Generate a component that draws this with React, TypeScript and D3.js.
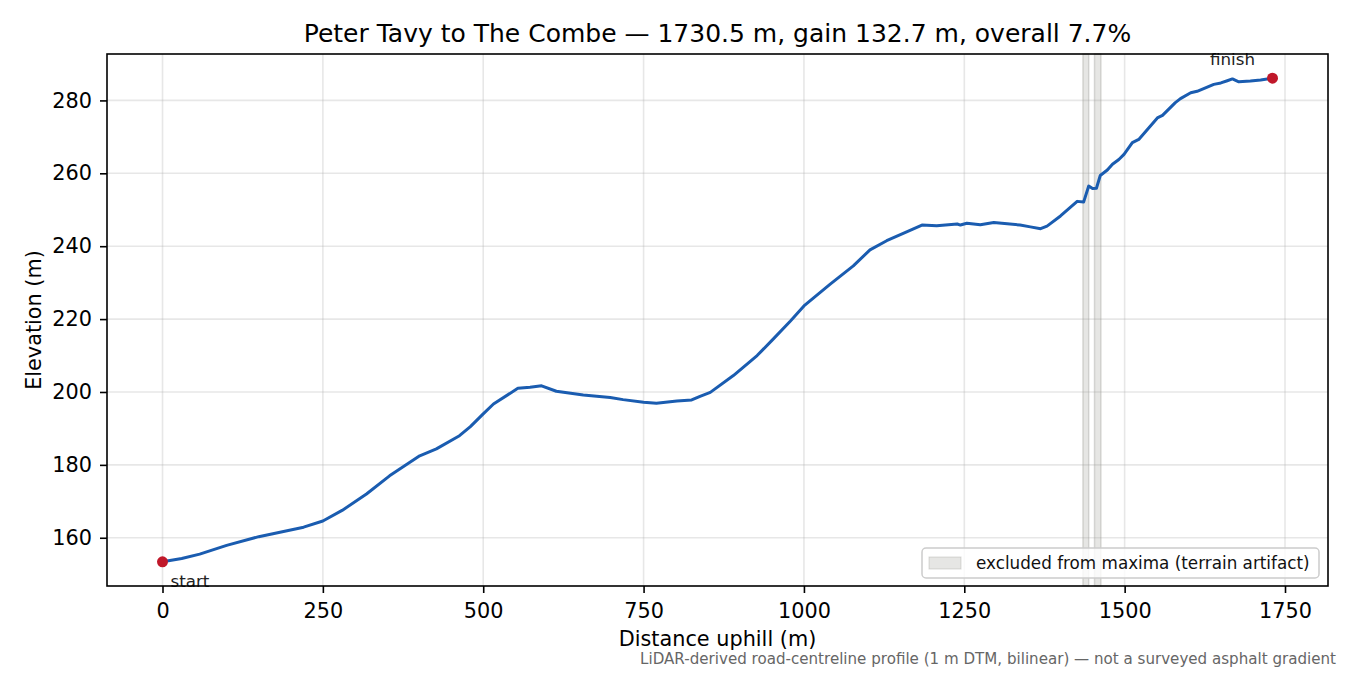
import { useEffect, useRef } from "react";
import * as d3 from "d3";

// profile
const distances = [
  0, 30, 58, 100, 150, 220, 250, 280, 318, 354, 401, 427, 463, 480, 500, 516,
  554, 573, 591, 614, 656, 698, 718, 750, 770, 802, 825, 838, 854, 890, 927,
  952, 979, 1000, 1041, 1077, 1103, 1129, 1161, 1184, 1207, 1239, 1244, 1254,
  1275, 1296, 1337, 1353, 1369, 1379, 1400, 1426, 1436, 1444, 1450, 1456, 1462,
  1473, 1481, 1491, 1499, 1512, 1522, 1551, 1559, 1579, 1587, 1603, 1613, 1639,
  1650, 1660, 1668, 1678, 1696, 1712, 1730.5,
];
const elevations = [
  153.4, 154.3, 155.5, 157.9, 160.3, 162.9, 164.6, 167.5, 172.0, 177.0, 182.5,
  184.4, 188.0, 190.5, 194.0, 196.7, 201.0, 201.3, 201.7, 200.2, 199.2, 198.5,
  197.9, 197.2, 196.9, 197.5, 197.8, 198.8, 199.9, 204.5, 210.0, 214.5, 219.5,
  223.6, 229.6, 234.6, 239.0, 241.5, 244.0, 245.8, 245.6, 246.1, 245.8, 246.3,
  245.9, 246.5, 245.8, 245.3, 244.8, 245.5, 248.3, 252.3, 252.1, 256.5, 255.8,
  255.9, 259.4, 260.9, 262.5, 263.8, 265.2, 268.4, 269.3, 275.2, 275.9, 279.4,
  280.5, 282.1, 282.5, 284.4, 284.8, 285.4, 285.9, 285.1, 285.3, 285.6, 286.1,
];
const excludedStart = [1435, 1453];
const excludedEnd = [1444, 1463];
const xTicks = [0, 250, 500, 750, 1000, 1250, 1500, 1750];
const yTicks = [160, 180, 200, 220, 240, 260, 280];

export default function App() {
  const svgRef = useRef<SVGSVGElement>(null);

  useEffect(() => {
    const width = 1350;
    const height = 675;
    const m = { left: 107, right: 1328, top: 54, bottom: 586 };
    const font = "DejaVu Sans, sans-serif";

    const svg = d3.select(svgRef.current);
    svg.selectAll("*").remove();
    svg.attr("width", width).attr("height", height).style("font-family", font);

    svg.append("rect").attr("width", width).attr("height", height).attr("fill", "white");

    // scales with matplotlib-like 5% margins
    const xMax = distances[distances.length - 1];
    const yMin = d3.min(elevations) as number;
    const yMaxV = d3.max(elevations) as number;
    const xPad = xMax * 0.05;
    const yPad = (yMaxV - yMin) * 0.05;
    const x = d3.scaleLinear().domain([-xPad, xMax + xPad]).range([m.left, m.right]);
    const y = d3.scaleLinear().domain([yMin - yPad, yMaxV + yPad]).range([m.bottom, m.top]);

    const plot = svg.append("g");

    // grid
    plot
      .selectAll(".vgrid")
      .data(xTicks)
      .join("line")
      .attr("x1", (d) => x(d))
      .attr("x2", (d) => x(d))
      .attr("y1", m.top)
      .attr("y2", m.bottom)
      .attr("stroke", "#b0b0b0")
      .attr("stroke-opacity", 0.3)
      .attr("stroke-width", 1.6);
    plot
      .selectAll(".hgrid")
      .data(yTicks)
      .join("line")
      .attr("x1", m.left)
      .attr("x2", m.right)
      .attr("y1", (d) => y(d))
      .attr("y2", (d) => y(d))
      .attr("stroke", "#b0b0b0")
      .attr("stroke-opacity", 0.3)
      .attr("stroke-width", 1.6);

    // excluded bands
    plot
      .selectAll(".band")
      .data(excludedStart.map((s, i) => [s, excludedEnd[i]]))
      .join("rect")
      .attr("x", (d) => x(d[0]))
      .attr("width", (d) => x(d[1]) - x(d[0]))
      .attr("y", m.top)
      .attr("height", m.bottom - m.top)
      .attr("fill", "#9a9a94")
      .attr("fill-opacity", 0.25)
      .attr("stroke", "#9a9a94")
      .attr("stroke-opacity", 0.35)
      .attr("stroke-width", 1.5);

    // profile line
    const pts = distances.map((d, i) => [d, elevations[i]] as [number, number]);
    const line = d3
      .line<[number, number]>()
      .x((d) => x(d[0]))
      .y((d) => y(d[1]));
    plot
      .append("path")
      .datum(pts)
      .attr("d", line)
      .attr("fill", "none")
      .attr("stroke", "#1a5cb0")
      .attr("stroke-width", 3)
      .attr("stroke-linejoin", "round");

    // start / finish markers
    const ends = [pts[0], pts[pts.length - 1]];
    plot
      .selectAll(".end")
      .data(ends)
      .join("circle")
      .attr("cx", (d) => x(d[0]))
      .attr("cy", (d) => y(d[1]))
      .attr("r", 5.5)
      .attr("fill", "#c0182a");

    plot
      .append("text")
      .attr("x", x(ends[0][0]) + 8)
      .attr("y", y(ends[0][1]) + 25)
      .attr("font-size", 16.7)
      .attr("fill", "#222")
      .text("start");
    plot
      .append("text")
      .attr("x", x(ends[1][0]) - 40)
      .attr("y", y(ends[1][1]) - 13)
      .attr("text-anchor", "middle")
      .attr("font-size", 16.7)
      .attr("fill", "#222")
      .text("finish");

    // axes
    const xAxis = d3.axisBottom(x).tickValues(xTicks).tickSize(7).tickPadding(10).tickFormat(d3.format("d"));
    const yAxis = d3.axisLeft(y).tickValues(yTicks).tickSize(7).tickPadding(8).tickFormat(d3.format("d"));
    const gx = svg.append("g").attr("transform", `translate(0,${m.bottom})`).call(xAxis);
    const gy = svg.append("g").attr("transform", `translate(${m.left},0)`).call(yAxis);
    [gx, gy].forEach((g) => {
      g.select(".domain").remove();
      g.selectAll("line").attr("stroke", "#000").attr("stroke-width", 1.6);
      g.selectAll("text").attr("font-size", 20.8).attr("font-family", font).attr("fill", "#000");
    });

    // frame
    svg
      .append("rect")
      .attr("x", m.left)
      .attr("y", m.top)
      .attr("width", m.right - m.left)
      .attr("height", m.bottom - m.top)
      .attr("fill", "none")
      .attr("stroke", "#000")
      .attr("stroke-width", 1.6);

    // legend
    const lg = svg.append("g").attr("transform", "translate(922,548)");
    lg.append("rect")
      .attr("width", 397)
      .attr("height", 30)
      .attr("rx", 4)
      .attr("fill", "white")
      .attr("fill-opacity", 0.8)
      .attr("stroke", "#cccccc")
      .attr("stroke-width", 1.5);
    lg.append("rect")
      .attr("x", 7)
      .attr("y", 9)
      .attr("width", 32)
      .attr("height", 12)
      .attr("fill", "#9a9a94")
      .attr("fill-opacity", 0.25)
      .attr("stroke", "#9a9a94")
      .attr("stroke-opacity", 0.35);
    lg.append("text")
      .attr("x", 54)
      .attr("y", 20.5)
      .attr("font-size", 16.8)
      .attr("fill", "#111")
      .text("excluded from maxima (terrain artifact)");

    // titles
    svg
      .append("text")
      .attr("x", (m.left + m.right) / 2)
      .attr("y", 42)
      .attr("text-anchor", "middle")
      .attr("font-size", 25)
      .attr("fill", "#000")
      .text("Peter Tavy to The Combe \u2014 1730.5 m, gain 132.7 m, overall 7.7%");
    svg
      .append("text")
      .attr("x", (m.left + m.right) / 2)
      .attr("y", 646)
      .attr("text-anchor", "middle")
      .attr("font-size", 20.8)
      .attr("fill", "#000")
      .text("Distance uphill (m)");
    svg
      .append("text")
      .attr("transform", `translate(41,${(m.top + m.bottom) / 2}) rotate(-90)`)
      .attr("text-anchor", "middle")
      .attr("font-size", 20.8)
      .attr("fill", "#000")
      .text("Elevation (m)");
    svg
      .append("text")
      .attr("x", 1336)
      .attr("y", 664)
      .attr("text-anchor", "end")
      .attr("font-size", 15.1)
      .attr("fill", "#666")
      .text("LiDAR-derived road-centreline profile (1 m DTM, bilinear) \u2014 not a surveyed asphalt gradient");
  }, []);

  return (
    <div style={{ margin: -8 }}>
      <svg ref={svgRef}></svg>
    </div>
  );
}
